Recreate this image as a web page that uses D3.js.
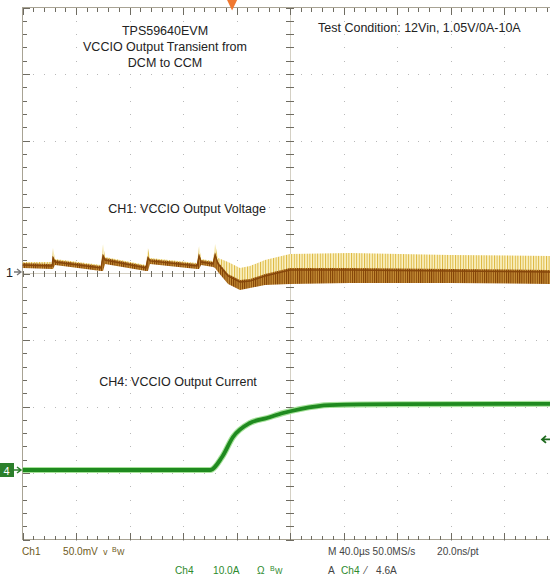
<!DOCTYPE html>
<html>
<head>
<meta charset="utf-8">
<script src="https://cdn.jsdelivr.net/npm/d3@7"></script>
<style>
  html, body { margin: 0; padding: 0; background: #fff; }
  svg { display: block; }
  .note { font-family: "Liberation Sans", Arial, sans-serif; font-size: 12.5px; fill: #222; }
  .readout { font-family: "Liberation Sans Narrow", "Liberation Sans", Arial, sans-serif; font-size: 11px; }
  .tk .domain { display: none; }
  .tk line { stroke: #6f6c62; shape-rendering: crispEdges; }
</style>
</head>
<body>
<svg id="scope" width="550" height="578"></svg>
<script>
// time base, µs (10 divisions of 40 µs)
var timeDomain = [0, 400];
var triggerTime = 156.7;

// CH1: VCCIO output voltage, mV from channel marker
var ch1Time  = [0, 22.1, 22.8, 24.3, 58.7, 60.2, 61.7, 92.3, 93.8, 95.3, 130.5, 132.0, 133.5, 142.5, 144.0, 146.2, 153.7, 162.6, 170.1, 181.3, 200, 244.9, 319.7, 400];
var ch1Upper = [7.5, 7.5, 18.0, 9.8, 5.3, 21.1, 11.3, 5.3, 18.0, 10.5, 6.8, 19.6, 9.8, 8.3, 21.1, 10.5, 7.5, 3.0, 4.5, 9.0, 13.5, 14.3, 12.8, 12.0];
var ch1Core  = [5.3, 4.5, 10.5, 7.5, 3.0, 12.0, 9.0, 3.0, 10.5, 8.3, 4.5, 12.0, 7.5, 6.0, 12.8, 6.0, -3.0, -7.5, -6.8, -3.0, 1.5, 1.5, 0.8, 0];
var ch1Lower = [3.0, 2.3, 2.3, 5.3, 0.8, 0.8, 6.0, 0.8, 0.8, 6.0, 2.3, 2.3, 5.3, 3.8, 3.0, 0, -9.0, -13.5, -12.0, -9.8, -9.0, -8.3, -8.3, -9.0];

// CH4: VCCIO output current, A
var ch4Time = [0, 60, 100, 140.2, 149.2, 157.4, 170.1, 182.8, 194.8, 207.5, 229.9, 280, 400];
var ch4Amps = [0, 0, 0, 0, 1.95, 4.96, 7.07, 7.82, 8.57, 9.17, 9.77, 9.9, 9.95];
var ch4Trigger = 4.6;

// notes and readouts
var titleLines = ["TPS59640EVM", "VCCIO Output Transient from", "DCM to CCM"];
var conditionText = "Test Condition: 12Vin, 1.05V/0A-10A";
var ch1Label = "CH1: VCCIO Output Voltage";
var ch4Label = "CH4: VCCIO Output Current";

var svg = d3.select("#scope"),
  gLeft = 22.5, gRight = 557.5, gTop = 7.5, gBottom = 539.5,
  x = d3.scaleLinear().domain(timeDomain).range([gLeft, gRight]),
  gy = d3.scaleLinear().domain([0, 8]).range([gTop, gBottom]),
  y1 = d3.scaleLinear().domain([0, 50]).range([272, 205.5]),
  y4 = d3.scaleLinear().domain([0, 10]).range([470, 403.5]),
  cx = x(200), cy = gy(4),
  minorT = d3.range(0, 401, 8), majorT = d3.range(0, 401, 40),
  minorV = d3.range(0, 8.01, 0.2), majorV = d3.range(0, 9, 1),
  defs = svg.append("defs");

function stripes(id, w, color, back) {
  var p = defs.append("pattern")
    .attr("id", id)
    .attr("patternUnits", "userSpaceOnUse")
    .attr("width", w).attr("height", 6);
  p.append("rect").attr("width", w).attr("height", 6).attr("fill", back);
  p.append("rect").attr("width", 1).attr("height", 6).attr("fill", color);
}
stripes("yel", 2.6, "#dcb63c", "#fbf3c8");
stripes("brn", 2.2, "#7e3f04", "#c89038");

defs.append("clipPath").attr("id", "screen")
  .append("rect").attr("x", gLeft).attr("y", gTop).attr("width", gRight - gLeft).attr("height", gBottom - gTop);

// graticule dots
var grid = svg.append("g").attr("fill", "#b8b8b8");
majorT.slice(1, -1).forEach(function(t) {
  grid.selectAll(null).data(minorV).join("rect")
    .attr("x", Math.round(x(t))).attr("y", function(v) { return Math.round(gy(v)); })
    .attr("width", 1).attr("height", 1);
});
majorV.slice(1, -1).forEach(function(v) {
  grid.selectAll(null).data(minorT).join("rect")
    .attr("x", function(t) { return Math.round(x(t)); }).attr("y", Math.round(gy(v)))
    .attr("width", 1).attr("height", 1);
});

// frame
svg.append("path")
  .attr("fill", "none").attr("stroke", "#a8a394").attr("shape-rendering", "crispEdges")
  .attr("d", "M" + gRight + "," + gTop + "H" + gLeft + "V" + gBottom + "H" + gRight);
svg.append("path")
  .attr("fill", "none").attr("stroke", "#d4d0c4").attr("shape-rendering", "crispEdges")
  .attr("d", "M" + cx + "," + gTop + "V" + gBottom + "M" + gLeft + "," + cy + "H" + gRight);

// ticks on the frame edges and centre axes
function ticks(axis, tx, ty) {
  svg.append("g").attr("class", "tk").attr("transform", "translate(" + tx + "," + ty + ")").call(axis);
}
ticks(d3.axisBottom(x).tickValues(minorT).tickSize(4).tickFormat(""), 0, gTop);
ticks(d3.axisBottom(x).tickValues(majorT).tickSize(7).tickFormat(""), 0, gTop);
ticks(d3.axisTop(x).tickValues(minorT).tickSize(4).tickFormat(""), 0, gBottom);
ticks(d3.axisTop(x).tickValues(majorT).tickSize(7).tickFormat(""), 0, gBottom);
ticks(d3.axisRight(gy).tickValues(minorV).tickSize(4).tickFormat(""), gLeft, 0);
ticks(d3.axisRight(gy).tickValues(majorV).tickSize(7).tickFormat(""), gLeft, 0);
ticks(d3.axisRight(gy).tickValues(minorV).tickSize(4).tickFormat(""), cx, 0);
ticks(d3.axisLeft(gy).tickValues(minorV).tickSize(4).tickFormat(""), cx, 0);
ticks(d3.axisBottom(x).tickValues(minorT).tickSize(3).tickFormat(""), 0, cy);
ticks(d3.axisTop(x).tickValues(minorT).tickSize(3).tickFormat(""), 0, cy);

// CH1 trace
var plot = svg.append("g").attr("clip-path", "url(#screen)");
var idx = d3.range(ch1Time.length);
plot.append("path")
  .attr("fill", "url(#yel)")
  .attr("d", d3.area()
    .x(function(i) { return x(ch1Time[i]); })
    .y0(function(i) { return y1(ch1Core[i]); })
    .y1(function(i) { return y1(ch1Upper[i]); })(idx));
plot.append("path")
  .attr("fill", "url(#brn)")
  .attr("d", d3.area()
    .x(function(i) { return x(ch1Time[i]); })
    .y0(function(i) { return y1(ch1Lower[i]); })
    .y1(function(i) { return y1(ch1Core[i]) - 2; })(idx));
plot.append("path")
  .attr("fill", "none").attr("stroke", "#86460a").attr("stroke-width", 1.4)
  .attr("d", d3.line()
    .x(function(i) { return x(ch1Time[i]); })
    .y(function(i) { return y1(ch1Core[i]); })(idx));

// CH4 trace
var ch4Line = d3.line()
  .x(function(d, i) { return x(ch4Time[i]); })
  .y(function(d) { return y4(d); })
  .curve(d3.curveMonotoneX);
plot.append("path").attr("fill", "none").attr("stroke", "#a6e29a").attr("stroke-width", 6).attr("d", ch4Line(ch4Amps));
plot.append("path").attr("fill", "none").attr("stroke", "#1f8a1f").attr("stroke-width", 3.8).attr("d", ch4Line(ch4Amps));

// channel markers
var m1 = svg.append("g").attr("transform", "translate(0," + y1(0) + ")");
m1.append("text").attr("x", 6).attr("y", 4.5).attr("class", "note").attr("font-size", 12).attr("fill", "#555").text("1");
m1.append("path").attr("d", "M14,0H21M17,-3L21,0L17,3").attr("stroke", "#777").attr("fill", "none").attr("stroke-width", 1.3);

var m4 = svg.append("g").attr("transform", "translate(0," + y4(0) + ")");
m4.append("rect").attr("x", 0).attr("y", -7).attr("width", 14).attr("height", 14).attr("fill", "#2b7f2b");
m4.append("text").attr("x", 3.5).attr("y", 4.5).attr("class", "readout").attr("font-size", 12).attr("fill", "#fff").text("4");
m4.append("path").attr("d", "M14,0H21M17,-3L21,0L17,3").attr("stroke", "#2b7f2b").attr("fill", "none").attr("stroke-width", 1.5);

// trigger level and position
svg.append("path")
  .attr("transform", "translate(542," + y4(ch4Trigger) + ")")
  .attr("d", "M0,0H8M4,-3.5L0,0L4,3.5")
  .attr("stroke", "#1f6a1f").attr("stroke-width", 1.8).attr("fill", "none");
svg.append("path")
  .attr("transform", "translate(" + x(triggerTime) + "," + gTop + ")")
  .attr("d", "M-5,-7.5L5,-7.5L0,3Z")
  .attr("fill", "#f07830");

// notes
svg.append("g").selectAll("text").data(titleLines).join("text")
  .attr("class", "note").attr("text-anchor", "middle")
  .attr("x", 165).attr("y", function(d, i) { return 35 + i * 16; })
  .text(function(d) { return d; });
svg.append("text").attr("class", "note").attr("x", 318).attr("y", 32).text(conditionText);
svg.append("text").attr("class", "note").attr("text-anchor", "middle").attr("x", 187).attr("y", 213).text(ch1Label);
svg.append("text").attr("class", "note").attr("text-anchor", "middle").attr("x", 178).attr("y", 386).text(ch4Label);

// readouts (condensed like the scope font)
var ro = svg.append("g").attr("class", "readout");
function readout(tx, ty, str, color, size) {
  ro.append("text")
    .attr("transform", "translate(" + tx + "," + ty + ") scale(0.88,1)")
    .attr("font-size", size || 11.5)
    .attr("fill", color).text(str);
}
readout(22, 555, "Ch1", "#6e5a22");
readout(63, 555, "50.0mV", "#6e5a22");
readout(103, 555, "\u2174", "#6e5a22", 9);
readout(112, 552, "B", "#6e5a22", 8);
readout(117, 555, "W", "#6e5a22", 9);
readout(175, 574, "Ch4", "#2d8a2d");
readout(213, 574, "10.0A", "#2d8a2d");
readout(257, 574, "\u03a9", "#2d8a2d");
readout(270, 571, "B", "#2d8a2d", 8);
readout(275, 574, "W", "#2d8a2d", 9);
readout(328, 555, "M 40.0\u00b5s 50.0MS/s", "#444");
readout(437, 555, "20.0ns/pt", "#444");
readout(328, 574, "A", "#444");
readout(341, 574, "Ch4", "#2d8a2d");
readout(365, 574, "\u2215", "#444");
readout(376, 574, "4.6A", "#444");
</script>
</body>
</html>
